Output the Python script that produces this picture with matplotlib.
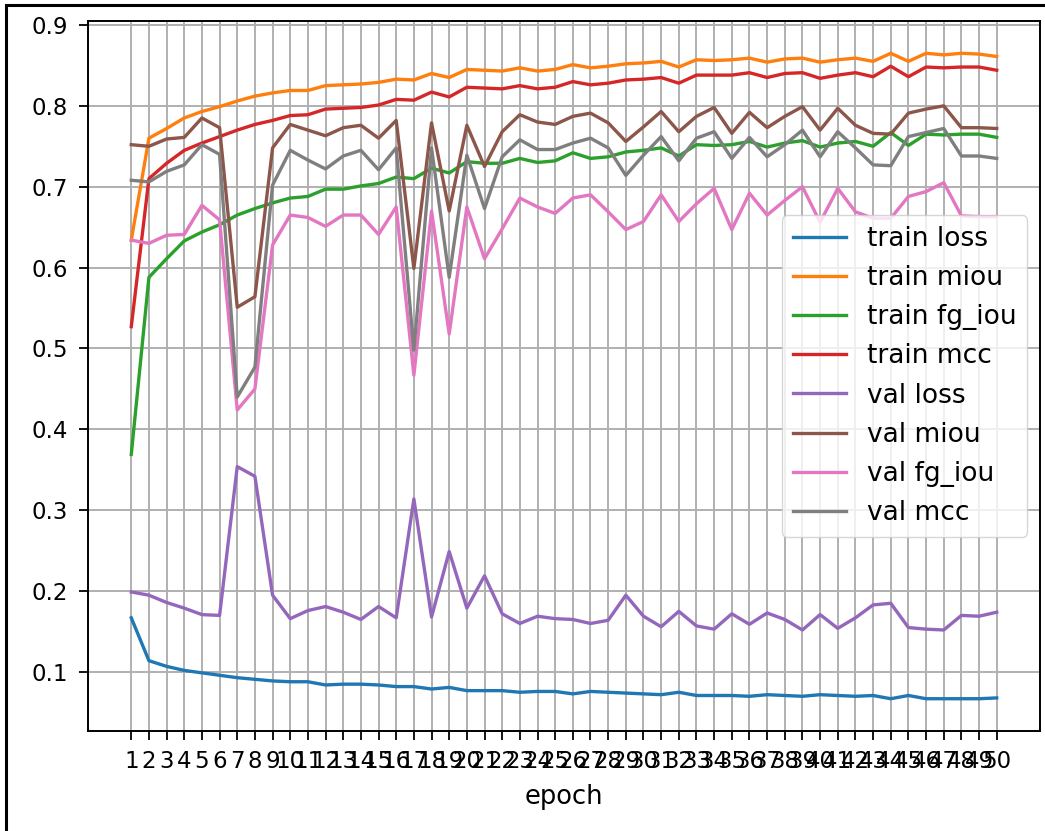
import numpy as np
import matplotlib
matplotlib.use("Agg")
import matplotlib.pyplot as plt
from matplotlib.patches import Rectangle

epochs = list(range(1, 51))

train_loss = [0.167, 0.114, 0.107, 0.102, 0.099, 0.096, 0.093, 0.091, 0.089, 0.088,
              0.088, 0.084, 0.085, 0.085, 0.084, 0.082, 0.082, 0.079, 0.081, 0.077,
              0.077, 0.077, 0.075, 0.076, 0.076, 0.073, 0.076, 0.075, 0.074, 0.073,
              0.072, 0.075, 0.071, 0.071, 0.071, 0.070, 0.072, 0.071, 0.070, 0.072,
              0.071, 0.070, 0.071, 0.067, 0.071, 0.067, 0.067, 0.067, 0.067, 0.068]

train_miou = [0.634, 0.760, 0.772, 0.785, 0.793, 0.799, 0.806, 0.812, 0.816, 0.819,
              0.819, 0.825, 0.826, 0.827, 0.829, 0.833, 0.832, 0.840, 0.835, 0.845,
              0.844, 0.843, 0.847, 0.843, 0.845, 0.851, 0.847, 0.849, 0.852, 0.853,
              0.855, 0.848, 0.857, 0.856, 0.857, 0.859, 0.854, 0.858, 0.859, 0.854,
              0.857, 0.859, 0.855, 0.865, 0.855, 0.865, 0.863, 0.865, 0.864, 0.861]

train_fg_iou = [0.369, 0.588, 0.611, 0.633, 0.644, 0.653, 0.665, 0.673, 0.680, 0.686,
                0.688, 0.697, 0.697, 0.701, 0.704, 0.712, 0.710, 0.723, 0.717, 0.731,
                0.729, 0.729, 0.735, 0.730, 0.732, 0.742, 0.735, 0.737, 0.743, 0.745,
                0.748, 0.738, 0.752, 0.751, 0.752, 0.756, 0.749, 0.754, 0.757, 0.749,
                0.754, 0.756, 0.750, 0.767, 0.751, 0.765, 0.764, 0.765, 0.765, 0.761]

train_mcc = [0.527, 0.710, 0.729, 0.745, 0.754, 0.762, 0.770, 0.777, 0.782, 0.788,
             0.789, 0.796, 0.797, 0.798, 0.801, 0.808, 0.807, 0.817, 0.811, 0.823,
             0.822, 0.821, 0.825, 0.821, 0.823, 0.830, 0.826, 0.828, 0.832, 0.833,
             0.835, 0.828, 0.838, 0.838, 0.838, 0.841, 0.835, 0.840, 0.841, 0.834,
             0.838, 0.841, 0.836, 0.849, 0.836, 0.848, 0.847, 0.848, 0.848, 0.844]

val_loss = [0.199, 0.195, 0.186, 0.179, 0.171, 0.170, 0.354, 0.342, 0.195, 0.166,
            0.176, 0.181, 0.174, 0.165, 0.181, 0.167, 0.314, 0.168, 0.249, 0.179,
            0.219, 0.172, 0.160, 0.169, 0.166, 0.165, 0.160, 0.164, 0.195, 0.169,
            0.156, 0.175, 0.157, 0.153, 0.172, 0.159, 0.173, 0.165, 0.152, 0.171,
            0.154, 0.167, 0.183, 0.185, 0.155, 0.153, 0.152, 0.170, 0.169, 0.174]

val_miou = [0.752, 0.750, 0.759, 0.761, 0.785, 0.773, 0.551, 0.564, 0.748, 0.777,
            0.770, 0.763, 0.773, 0.776, 0.760, 0.782, 0.599, 0.779, 0.670, 0.776,
            0.725, 0.768, 0.789, 0.780, 0.777, 0.787, 0.791, 0.779, 0.756, 0.774,
            0.793, 0.768, 0.787, 0.798, 0.766, 0.792, 0.773, 0.787, 0.799, 0.770,
            0.797, 0.776, 0.766, 0.765, 0.791, 0.796, 0.800, 0.773, 0.773, 0.772]

val_fg_iou = [0.634, 0.630, 0.640, 0.641, 0.677, 0.659, 0.424, 0.450, 0.628, 0.665,
              0.662, 0.651, 0.665, 0.665, 0.641, 0.675, 0.467, 0.670, 0.518, 0.675,
              0.611, 0.648, 0.686, 0.675, 0.667, 0.686, 0.690, 0.669, 0.647, 0.657,
              0.690, 0.657, 0.679, 0.698, 0.647, 0.692, 0.665, 0.683, 0.700, 0.656,
              0.698, 0.669, 0.661, 0.661, 0.688, 0.694, 0.705, 0.664, 0.663, 0.663]

val_mcc = [0.708, 0.706, 0.719, 0.727, 0.752, 0.740, 0.440, 0.477, 0.702, 0.745,
           0.733, 0.722, 0.738, 0.745, 0.721, 0.748, 0.498, 0.748, 0.588, 0.739,
           0.673, 0.737, 0.758, 0.746, 0.746, 0.754, 0.760, 0.748, 0.714, 0.739,
           0.762, 0.732, 0.760, 0.768, 0.735, 0.761, 0.737, 0.752, 0.770, 0.737,
           0.768, 0.748, 0.727, 0.726, 0.762, 0.767, 0.772, 0.738, 0.738, 0.735]

series = [("train loss", train_loss), ("train miou", train_miou),
          ("train fg_iou", train_fg_iou), ("train mcc", train_mcc),
          ("val loss", val_loss), ("val miou", val_miou),
          ("val fg_iou", val_fg_iou), ("val mcc", val_mcc)]

plt.rcParams["font.size"] = 16.5

fig = plt.figure(figsize=(10.45, 8.31), dpi=100)
ax = fig.add_axes([88/1045, 1 - 731/831, (1040 - 88)/1045, (731 - 21)/831])

for name, vals in series:
    ax.plot(epochs, vals, label=name, linewidth=2.4)

ax.set_xticks(epochs)
ax.set_xlabel("epoch", fontsize=18.5, labelpad=8)
ax.grid(True, linewidth=1.4, color="#b0b0b0")
ax.tick_params(length=6.5, width=1.3, pad=8)
ax.tick_params(axis="x", pad=7)
for sp in ax.spines.values():
    sp.set_linewidth(1.4)
ax.legend(loc="center right", fontsize=19)

# frame of the screenshot
fig.add_artist(Rectangle((6/1045, -0.5), 2.0, (1 - 5/831) + 0.5, transform=fig.transFigure,
                         fill=False, edgecolor="black", linewidth=2.2, clip_on=False))

fig.savefig("out.png", dpi=100)
